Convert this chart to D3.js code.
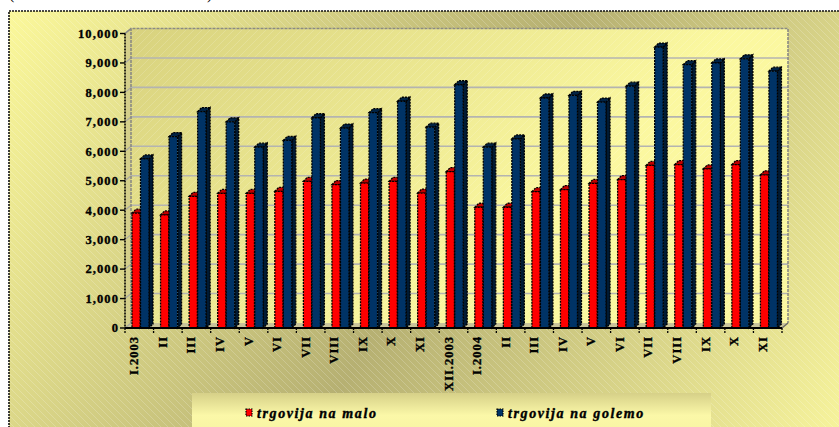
<!DOCTYPE html>
<html>
<head>
<meta charset="utf-8">
<script src="https://cdn.jsdelivr.net/npm/d3@7"></script>
<style>
  html, body { margin: 0; padding: 0; background: #ffffff; overflow: hidden; }
  svg { display: block; }
</style>
</head>
<body>
<svg id="chart" width="839" height="427"></svg>
<script>
// ---- data ----
const categories = ["I.2003","II","III","IV","V","VI","VII","VIII","IX","X","XI","XII.2003",
                    "I.2004","II ","III ","IV ","V ","VI ","VII ","VIII ","IX ","X ","XI "];
const seriesNames = ["trgovija na malo", "trgovija na golemo"];
const malo   = [3900,3840,4470,4570,4570,4640,4980,4870,4920,4980,4580,5310,
                4100,4100,4630,4700,4910,5040,5520,5550,5400,5550,5200];
const golemo = [5740,6500,7350,7000,6140,6370,7140,6790,7310,7700,6820,8260,
                6140,6420,7810,7900,7670,8210,9540,8940,9000,9140,8720];
const yTicks = [0,1000,2000,3000,4000,5000,6000,7000,8000,9000,10000];

// ---- layout ----
const svg = d3.select("#chart");
const defs = svg.append("defs");
const X0 = 125, X1 = 782, YB = 328, YT = 33.5;
const DX = 6, DY = -5;           // wall depth
const BDX = 4, BDY = -4;         // bar depth

const x = d3.scaleBand().domain(categories).range([X0, X1]);
const y = d3.scaleLinear().domain([0, 10000]).range([YB, YT]);

// gradients
const gOuter = defs.append("linearGradient").attr("id","gOuter")
  .attr("gradientUnits","userSpaceOnUse").attr("x1",0).attr("y1",0).attr("x2",839).attr("y2",520);
gOuter.append("stop").attr("offset","0%").attr("stop-color","#fdfa9c");
gOuter.append("stop").attr("offset","50%").attr("stop-color","#b6b072");
gOuter.append("stop").attr("offset","100%").attr("stop-color","#fdfaa0");

const gWall = defs.append("linearGradient").attr("id","gWall")
  .attr("gradientUnits","userSpaceOnUse").attr("x1",131).attr("y1",28).attr("x2",420).attr("y2",330);
gWall.append("stop").attr("offset","0%").attr("stop-color","#d8d27e");
gWall.append("stop").attr("offset","100%").attr("stop-color","#fbf8a0");

const gLeg = defs.append("linearGradient").attr("id","gLeg")
  .attr("x1",0).attr("y1",0).attr("x2",0).attr("y2",1);
gLeg.append("stop").attr("offset","0%").attr("stop-color","#d6d088");
gLeg.append("stop").attr("offset","45%").attr("stop-color","#fbf8a8");
gLeg.append("stop").attr("offset","100%").attr("stop-color","#f6f2a0");

const hatch1 = defs.append("pattern").attr("id","hatch1").attr("patternUnits","userSpaceOnUse")
  .attr("width",7).attr("height",7);
hatch1.append("path").attr("d","M-1,-1 L8,8 M-8,-1 L1,8 M6,-1 L15,8")
  .attr("stroke","#ffffff").attr("stroke-opacity",0.28).attr("stroke-width",0.7);
const hatch2 = defs.append("pattern").attr("id","hatch2").attr("patternUnits","userSpaceOnUse")
  .attr("width",8).attr("height",8);
hatch2.append("path").attr("d","M-1,9 L9,-1 M-9,9 L1,-1 M7,9 L17,-1")
  .attr("stroke","#ffffff").attr("stroke-opacity",0.22).attr("stroke-width",0.7);

// clipped title parentheses (only their lower ends show in the reference)
svg.append("text").attr("x",9).attr("y",-1).attr("font-family","Liberation Serif")
  .attr("font-size",16).attr("fill","#000").text("(");
svg.append("text").attr("x",207).attr("y",-1).attr("font-family","Liberation Serif")
  .attr("font-size",16).attr("fill","#000").text(")");

// outer chart area
svg.append("rect").attr("x",9).attr("y",11).attr("width",850).attr("height",440)
  .attr("fill","url(#gOuter)");
svg.append("rect").attr("x",9).attr("y",11).attr("width",850).attr("height",440)
  .attr("fill","url(#hatch1)");
svg.append("rect").attr("x",9).attr("y",11).attr("width",850).attr("height",440)
  .attr("fill","none").attr("stroke","#111").attr("stroke-width",1.6).attr("stroke-dasharray","2,1");

// back wall
const wx0 = X0 + DX, wx1 = X1 + DX, wyT = YT + DY, wyB = YB + DY;
svg.append("rect").attr("x",wx0).attr("y",wyT).attr("width",wx1-wx0).attr("height",wyB-wyT)
  .attr("fill","url(#gWall)");
svg.append("rect").attr("x",wx0).attr("y",wyT).attr("width",wx1-wx0).attr("height",wyB-wyT)
  .attr("fill","url(#hatch2)");
// left side wall
svg.append("path").attr("d",`M${X0},${YB} L${X0},${YT} L${wx0},${wyT} L${wx0},${wyB} Z`)
  .attr("fill","#d4cf8a");
// floor
svg.append("path").attr("d",`M${X0},${YB} L${X1},${YB} L${wx1},${wyB} L${wx0},${wyB} Z`)
  .attr("fill","#c9c49a");

// gridlines
const grid = svg.append("g");
yTicks.forEach(t => {
  const yy = y(t);
  if (t > 0 && t < 10000) {
    grid.append("line").attr("x1",wx0).attr("x2",wx1).attr("y1",yy+DY).attr("y2",yy+DY)
      .attr("stroke","#b4b4b0").attr("stroke-width",1.6);
  }
  grid.append("line").attr("x1",X0).attr("x2",wx0).attr("y1",yy).attr("y2",yy+DY)
    .attr("stroke","#a8a8a0").attr("stroke-width",1.2);
});
// wall outline
svg.append("path").attr("d",`M${wx0},${wyB} L${wx0},${wyT} L${wx1},${wyT} L${wx1},${wyB}`)
  .attr("fill","none").attr("stroke","#8a8a84").attr("stroke-width",1.6).attr("stroke-dasharray","3,1");
svg.append("path").attr("d",`M${X0},${YT} L${wx0},${wyT}`)
  .attr("fill","none").attr("stroke","#8a8a84").attr("stroke-width",1.4);
svg.append("path").attr("d",`M${X1},${YB} L${wx1},${wyB}`)
  .attr("fill","none").attr("stroke","#6a6a64").attr("stroke-width",1.4);

// bars
function bar(g, x0, w, v, front, side, top) {
  const yt = y(v), yb = YB;
  const x1 = x0 + w;
  g.append("path").attr("d",`M${x1},${yb} L${x1},${yt} L${x1+BDX},${yt+BDY} L${x1+BDX},${yb+BDY} Z`)
    .attr("fill",side).attr("stroke","#000").attr("stroke-width",1.3).attr("stroke-dasharray","2,1");
  g.append("path").attr("d",`M${x0},${yt} L${x0+BDX},${yt+BDY} L${x1+BDX},${yt+BDY} L${x1},${yt} Z`)
    .attr("fill",top).attr("stroke","#000").attr("stroke-width",1.3).attr("stroke-dasharray","2,1");
  g.append("rect").attr("x",x0).attr("y",yt).attr("width",w).attr("height",yb-yt)
    .attr("fill",front).attr("stroke","#000").attr("stroke-width",1.3).attr("stroke-dasharray","2,1");
}
const bars = svg.append("g");
categories.forEach((c, i) => {
  const xb = x(c);
  const g = bars.append("g");
  bar(g, xb + 7, 8.2, malo[i], "#ff0000", "#8a0000", "#c00000");
  bar(g, xb + 15.5, 8.5, golemo[i], "#003366", "#001a33", "#002244");
});

// y axis
const yAxis = svg.append("g");
yAxis.append("line").attr("x1",X0).attr("x2",X0).attr("y1",YT).attr("y2",YB)
  .attr("stroke","#000").attr("stroke-width",1.6).attr("stroke-dasharray","2,1");
yTicks.forEach(t => {
  yAxis.append("line").attr("x1",X0-5).attr("x2",X0).attr("y1",y(t)).attr("y2",y(t))
    .attr("stroke","#000").attr("stroke-width",1.4);
  yAxis.append("text").attr("x",119).attr("y",y(t)).attr("dy","0.35em")
    .attr("text-anchor","end").attr("font-family","Liberation Serif").attr("font-weight","bold")
    .attr("font-size",12.5).attr("letter-spacing","1.1px").attr("fill","#000")
    .attr("stroke","#000").attr("stroke-width",0.35)
    .text(d3.format(",")(t));
});

// x axis
const xAxis = svg.append("g");
xAxis.append("line").attr("x1",X0).attr("x2",X1).attr("y1",YB).attr("y2",YB)
  .attr("stroke","#000").attr("stroke-width",1.8);
categories.concat([null]).forEach((c, i) => {
  const xx = c === null ? X1 : x(c);
  xAxis.append("line").attr("x1",xx).attr("x2",xx).attr("y1",YB).attr("y2",YB+6)
    .attr("stroke","#000").attr("stroke-width",1.3).attr("stroke-dasharray","2,1");
});
categories.forEach(c => {
  const cx = x(c) + x.bandwidth()/2 - 1;
  xAxis.append("text").attr("transform",`translate(${cx},336) rotate(-90)`)
    .attr("text-anchor","end").attr("font-family","Liberation Serif").attr("font-weight","bold")
    .attr("font-size",12.5).attr("letter-spacing","1px").attr("fill","#000")
    .attr("stroke","#000").attr("stroke-width",0.35)
    .text(c.trim());
});

// legend
const lg = svg.append("g");
lg.append("rect").attr("x",192).attr("y",393).attr("width",519).attr("height",50)
  .attr("fill","url(#gLeg)");
const legX = [246, 497];
const legCol = ["#ff0000", "#003366"];
seriesNames.forEach((s, i) => {
  lg.append("rect").attr("x",legX[i]).attr("y",409).attr("width",6).attr("height",7)
    .attr("fill",legCol[i]).attr("stroke","#000").attr("stroke-width",1.2).attr("stroke-dasharray","1.5,1");
  lg.append("text").attr("x",legX[i]+11).attr("y",413).attr("dy","0.35em")
    .attr("font-family","Liberation Serif").attr("font-weight","bold").attr("font-style","italic")
    .attr("font-size",14).attr("letter-spacing","1.6px").attr("fill","#000")
    .attr("stroke","#000").attr("stroke-width",0.4).text(s);
});
</script>
</body>
</html>
